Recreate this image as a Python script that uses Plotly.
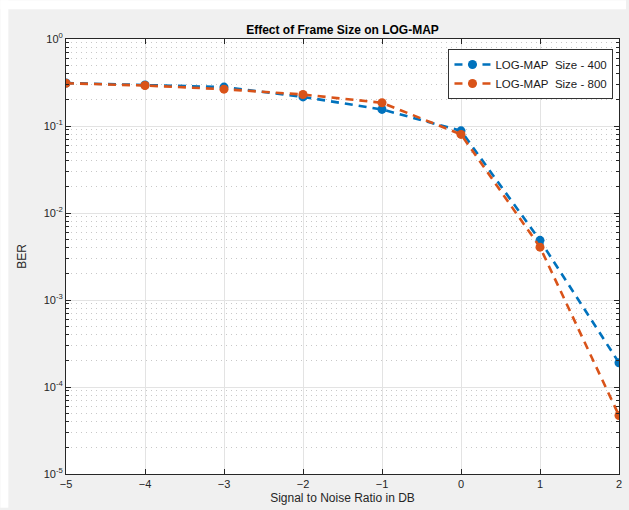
import plotly.graph_objects as go

snr = [-5, -4, -3, -2, -1, 0, 1, 2]
ber_400 = [0.312, 0.296, 0.280, 0.216, 0.155, 0.088, 0.00485, 0.00019]
ber_800 = [0.310, 0.292, 0.265, 0.230, 0.185, 0.080, 0.00405, 0.000047]

name_400 = "LOG-MAP\u00a0\u00a0Size - 400"
name_800 = "LOG-MAP\u00a0\u00a0Size - 800"

y_exps = [-5, -4, -3, -2, -1, 0]
y_ticktext = ["10<sup>%d</sup>" % e for e in y_exps]
y_tickvals = [10.0 ** e for e in y_exps]
y_minor = [m * 10.0 ** e for e in y_exps[:-1] for m in range(2, 10)]

blue = "#0072BD"
orange = "#D95319"
axis_col = "#262626"
font_fam = "Liberation Sans, Arial, sans-serif"

fig = go.Figure()
fig.add_trace(go.Scatter(x=snr, y=ber_400, mode="lines+markers", name=name_400,
                         line=dict(color=blue, width=2.6, dash="8px,6px"),
                         marker=dict(color=blue, size=9, symbol="circle")))
fig.add_trace(go.Scatter(x=snr, y=ber_800, mode="lines+markers", name=name_800,
                         line=dict(color=orange, width=2.6, dash="8px,6px"),
                         marker=dict(color=orange, size=9, symbol="circle")))

fig.update_layout(
    width=629, height=510,
    margin=dict(l=66, r=7, t=39, b=34),
    paper_bgcolor="#f0f0f0",
    plot_bgcolor="white",
    font=dict(family=font_fam, size=11, color=axis_col),
    title=dict(text="<b>Effect of Frame Size on LOG-MAP</b>", x=0.5, xanchor="center",
               xref="paper", y=1 - 30 / 510, yanchor="middle",
               font=dict(size=12, color="#000000")),
    showlegend=True,
    legend=dict(x=0.99, xanchor="right", y=0.977, yanchor="top",
                bgcolor="white", bordercolor="#333333", borderwidth=1,
                font=dict(size=11.5, color="#1a1a1a"), tracegroupgap=0,
                itemwidth=36),
    shapes=[dict(type="rect", xref="paper", yref="paper", layer="below",
                 x0=-66 / 556, x1=1 + 7 / 556, y0=1 + 30 / 437, y1=1 + 39 / 437,
                 fillcolor="white", line=dict(width=0)),
            dict(type="rect", xref="paper", yref="paper", layer="below",
                 x0=-66 / 556, x1=-58 / 556, y0=-34 / 437, y1=1 + 39 / 437,
                 fillcolor="white", line=dict(width=0))],
)

fig.update_xaxes(
    range=[-5, 2], dtick=1, tick0=-5,
    showline=True, linecolor=axis_col, linewidth=1, mirror="ticks",
    ticks="inside", ticklen=5, tickcolor=axis_col,
    showgrid=True, gridcolor="#e3e3e3", gridwidth=1, zeroline=False,
    title=dict(text="Signal to Noise Ratio in DB", standoff=4,
               font=dict(size=12, color=axis_col)),
)
fig.update_yaxes(
    type="log", range=[-5, 0],
    tickmode="array", tickvals=y_tickvals, ticktext=y_ticktext,
    showline=True, linecolor=axis_col, linewidth=1, mirror="ticks",
    ticks="inside", ticklen=5, tickcolor=axis_col,
    showgrid=True, gridcolor="#e3e3e3", gridwidth=1, zeroline=False,
    minor=dict(tickmode="array", tickvals=y_minor, ticks="inside", ticklen=3,
               tickcolor=axis_col, showgrid=True, gridcolor="#c8c8c8",
               griddash="1px,4px", gridwidth=1),
    title=dict(text="BER", standoff=14, font=dict(size=12, color=axis_col)),
)

fig.write_html("out.html")
